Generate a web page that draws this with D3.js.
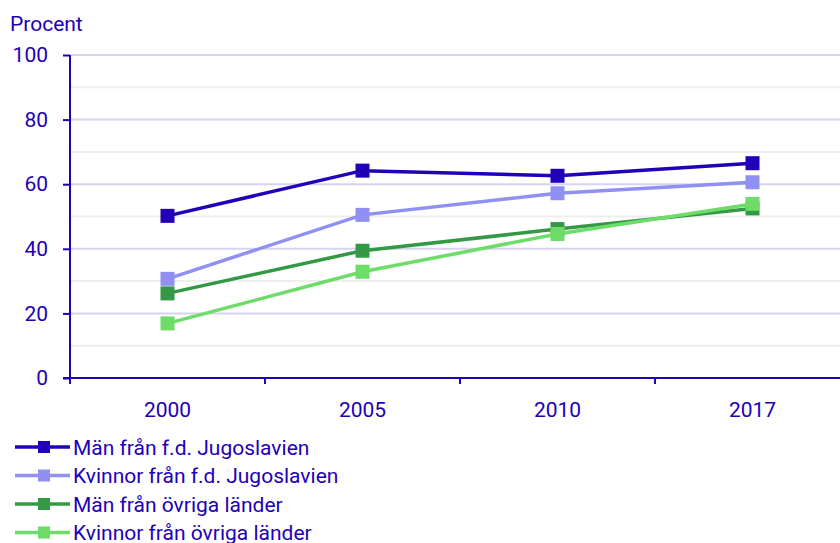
<!DOCTYPE html>
<html><head><meta charset="utf-8">
<script src="https://cdn.jsdelivr.net/npm/d3@7"></script>
<style>body{margin:0;background:#fff}svg{display:block;font-family:Roboto,sans-serif}</style>
</head><body><svg id="c" width="840" height="543"></svg>
<script>
const categories = ["2000","2005","2010","2017"];
const seriesNames = ["Män från f.d. Jugoslavien","Kvinnor från f.d. Jugoslavien","Män från övriga länder","Kvinnor från övriga länder"];
const menYugo = [50.2, 64.2, 62.6, 66.5];
const womenYugo = [30.7, 50.5, 57.2, 60.6];
const menOther = [26.2, 39.4, 46.1, 52.5];
const womenOther = [16.9, 32.9, 44.6, 53.9];
const yTicks = [0,20,40,60,80,100];
const yMinor = [10,30,50,70,90];
const colors = ["#2100b8","#9090f2","#339944","#6edc68"];
const series = [menYugo, womenYugo, menOther, womenOther];
const textColor = "#2100b8";
const fs = 21;

const svg = d3.select("#c");
const x = d3.scaleBand().domain(categories).range([70, 850]).padding(0);
const y = d3.scaleLinear().domain([0,100]).range([378, 55]);

// gridlines
svg.append("g").selectAll("line").data(yMinor).join("line")
  .attr("x1",71).attr("x2",840).attr("y1",d=>y(d)).attr("y2",d=>y(d))
  .attr("stroke","#eeeeee").attr("stroke-width",2);
svg.append("g").selectAll("line").data(yTicks.filter(d=>d>0)).join("line")
  .attr("x1",71).attr("x2",840).attr("y1",d=>y(d)).attr("y2",d=>y(d))
  .attr("stroke","#d4d4f2").attr("stroke-width",2);

// y axis
const ya = svg.append("g").attr("transform","translate(70,0)")
  .call(d3.axisLeft(y).tickValues(yTicks).tickSize(7).tickPadding(15));
ya.select(".domain").remove();
ya.selectAll(".tick line").attr("stroke",textColor).attr("stroke-width",2);
ya.selectAll(".tick text").attr("fill",textColor).attr("font-size",fs).attr("font-family","Roboto");
svg.append("line").attr("x1",70).attr("x2",70).attr("y1",y(100)).attr("y2",384)
  .attr("stroke",textColor).attr("stroke-width",2);

// x axis
svg.append("line").attr("x1",63).attr("x2",840).attr("y1",y(0)).attr("y2",y(0))
  .attr("stroke",textColor).attr("stroke-width",2);
const bounds = categories.map(c=>x(c)).concat([x(categories[categories.length-1])+x.bandwidth()]);
svg.append("g").selectAll("line").data(bounds).join("line")
  .attr("x1",d=>d).attr("x2",d=>d).attr("y1",y(0)).attr("y2",y(0)+6)
  .attr("stroke",textColor).attr("stroke-width",2);
svg.append("g").selectAll("text").data(categories).join("text")
  .attr("x",d=>x(d)+x.bandwidth()/2).attr("y",417)
  .attr("text-anchor","middle").attr("fill",textColor).attr("font-size",fs).text(d=>d);

svg.append("text").attr("x",10).attr("y",31).attr("fill",textColor).attr("font-size",fs).text("Procent");

// lines
const line = d3.line().x((d,i)=>x(categories[i])+x.bandwidth()/2).y(d=>y(d));
series.forEach((s,k)=>{
  svg.append("path").datum(s).attr("d",line).attr("fill","none")
    .attr("stroke",colors[k]).attr("stroke-width",3.5);
  svg.append("g").selectAll("rect").data(s).join("rect")
    .attr("x",(d,i)=>x(categories[i])+x.bandwidth()/2-7).attr("y",d=>y(d)-7)
    .attr("width",14).attr("height",14).attr("fill",colors[k]);
});

// legend
const lg = svg.append("g");
seriesNames.forEach((n,k)=>{
  const cy = 447 + k*28.5;
  lg.append("line").attr("x1",15).attr("x2",70).attr("y1",cy).attr("y2",cy)
    .attr("stroke",colors[k]).attr("stroke-width",3.5);
  lg.append("rect").attr("x",38).attr("y",cy-6).attr("width",12).attr("height",12).attr("fill",colors[k]);
  lg.append("text").attr("x",73).attr("y",cy+7.5).attr("fill",textColor).attr("font-size",fs).text(n);
});
</script></body></html>
